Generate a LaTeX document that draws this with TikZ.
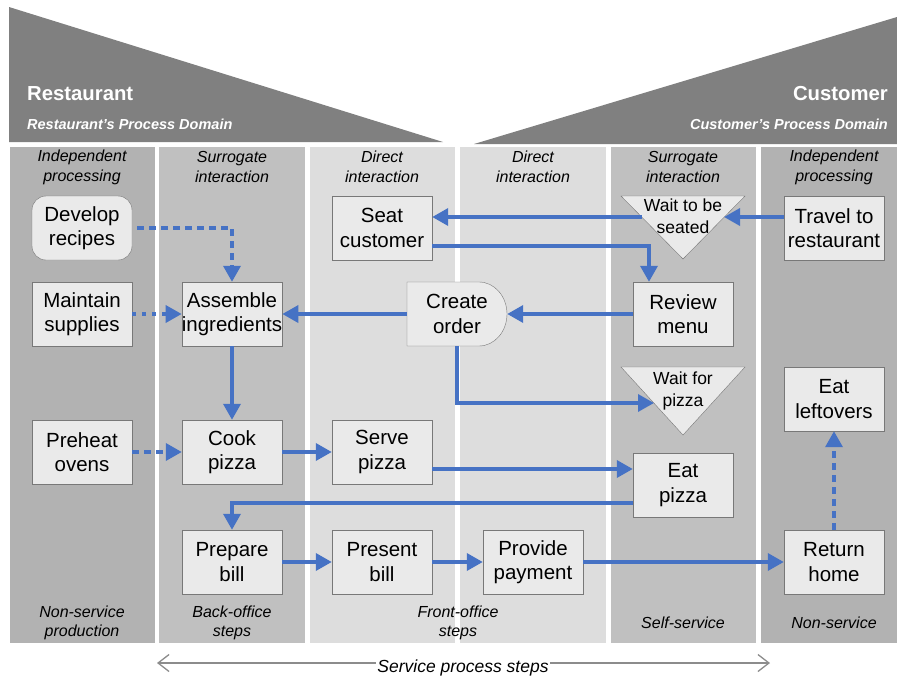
\documentclass[tikz,border=0pt]{standalone}
\usepackage{fontspec}
\setmainfont{Liberation Sans}
\usetikzlibrary{arrows.meta}

\definecolor{lanedark}{RGB}{178,178,178}
\definecolor{lanemid}{RGB}{192,192,192}
\definecolor{lanelight}{RGB}{221,221,221}
\definecolor{headgray}{RGB}{128,128,128}
\definecolor{spangray}{RGB}{140,140,140}
\definecolor{boxfill}{RGB}{234,234,234}
\definecolor{boxedge}{RGB}{120,120,120}
\definecolor{flowblue}{RGB}{70,114,196}

\tikzset{
  procbox/.style={draw=boxedge, fill=boxfill, minimum width=100pt, minimum height=64pt,
    inner sep=0pt, align=center, font=\fontsize{20.5}{24.5}\selectfont},
  roundbox/.style={procbox, rounded corners=14pt},
  plainbox/.style={minimum width=100pt, minimum height=64pt, inner sep=0pt, align=center,
    font=\fontsize{20.5}{24.5}\selectfont},
  waittext/.style={align=center, inner sep=0pt, font=\fontsize{17.5}{22}\selectfont},
  lanehead/.style={align=center, inner sep=0pt, font=\fontsize{16}{20}\selectfont\itshape},
  lanefoot/.style={align=center, inner sep=0pt, font=\fontsize{16}{19}\selectfont\itshape},
  flow/.style={draw=flowblue, line width=3.5pt, -{Triangle[length=16pt,width=17pt]}},
  dashflow/.style={flow, dash pattern=on 7pt off 5pt},
  dotflow/.style={flow, dash pattern=on 3.5pt off 6.5pt}
}

\begin{document}
\begin{tikzpicture}[x=1pt,y=-1pt]
\useasboundingbox (0,0) rectangle (897,675);

% Lanes
\fill[lanedark] (10,147) rectangle (155,643);
\fill[lanemid] (159,147) rectangle (305,643);
\fill[lanelight] (310,147) rectangle (455,643);
\fill[lanelight] (460,147) rectangle (606,643);
\fill[lanemid] (611,147) rectangle (756,643);
\fill[lanedark] (761,147) rectangle (897,643);

% Process domains
\fill[headgray] (9,7) -- (9,142) -- (443,142) -- cycle;
\fill[headgray] (897,17) -- (897,144) -- (474,144) -- cycle;
\node[anchor=base west, text=white, inner sep=0pt, font=\fontsize{20.3}{24}\selectfont\bfseries] (resttitle) at (27,100) {Restaurant};
\node[anchor=base west, text=white, inner sep=0pt, font=\fontsize{14.5}{17}\selectfont\bfseries\itshape] (restdomain) at (27,129) {Restaurant’s Process Domain};
\node[anchor=base east, text=white, inner sep=0pt, font=\fontsize{20.3}{24}\selectfont\bfseries] (custtitle) at (888,100) {Customer};
\node[anchor=base east, text=white, inner sep=0pt, font=\fontsize{14.5}{17}\selectfont\bfseries\itshape] (custdomain) at (888,129) {Customer’s Process Domain};

% Lane headings
\node[lanehead] (head1) at (82,167) {Independent\\processing};
\node[lanehead] (head2) at (232,167) {Surrogate\\interaction};
\node[lanehead] (head3) at (382,167) {Direct\\interaction};
\node[lanehead] (head4) at (533,167) {Direct\\interaction};
\node[lanehead] (head5) at (683,167) {Surrogate\\interaction};
\node[lanehead] (head6) at (834,167) {Independent\\processing};

% Lane footers
\node[lanefoot] (foot1) at (82,623) {Non-service\\production};
\node[lanefoot] (foot2) at (232,623) {Back-office\\steps};
\node[lanefoot] (foot3) at (458,623) {Front-office\\steps};
\node[lanefoot] (foot5) at (683,623) {Self-service};
\node[lanefoot] (foot6) at (834,623) {Non-service};

% Restaurant steps
\node[roundbox] (develop) at (82,228) {Develop\\recipes};
\node[procbox] (maintain) at (82,314) {Maintain\\supplies};
\node[procbox] (preheat) at (82,452) {Preheat\\ovens};
\node[procbox] (assemble) at (232,314) {Assemble\\ingredients};
\node[procbox] (cook) at (232,452) {Cook\\pizza};
\node[procbox] (prepare) at (232,562) {Prepare\\bill};
\node[procbox] (seat) at (382,228) {Seat\\customer};
\node[procbox] (serve) at (382,452) {Serve\\pizza};
\node[procbox] (present) at (382,562) {Present\\bill};
\node[procbox] (payment) at (533,562) {Provide\\payment};

% Create order (delay shape)
\draw[draw=boxedge, fill=boxfill] (407,282) -- (479,282)
  arc[start angle=90, end angle=-90, x radius=28pt, y radius=32pt] -- (407,346) -- cycle;
\node[plainbox] (order) at (457,314) {Create\\order};

% Customer steps
\draw[draw=boxedge, fill=boxfill] (621,196) -- (745,196) -- (683,259) -- cycle;
\node[waittext] (waitseat) at (683,216) {Wait to be\\seated};
\draw[draw=boxedge, fill=boxfill] (621,367) -- (745,367) -- (683,435) -- cycle;
\node[waittext] (waitpizza) at (683,391) {Wait for\\pizza};
\node[procbox] (travel) at (834,228) {Travel to\\restaurant};
\node[procbox] (review) at (683,314) {Review\\menu};
\node[procbox] (eat) at (683,485) {Eat\\pizza};
\node[procbox] (leftovers) at (834,399) {Eat\\leftovers};
\node[procbox] (home) at (834,562) {Return\\home};

\coordinate (waitseatR) at (724,217);
\coordinate (waitseatL) at (642,217);
\coordinate (waitpizzaL) at (654,403);
\coordinate (serveout) at ([yshift=-17pt]serve.east);

% Flows
\draw[dashflow] ([xshift=5pt]develop.east) -| (assemble.north);
\draw[dotflow] (maintain.east) -- (assemble.west);
\draw[dashflow] (preheat.east) -- (cook.west);
\draw[flow] (assemble.south) -- (cook.north);
\draw[flow] (cook.east) -- (serve.west);
\draw[flow] (serveout) -- (eat.west |- serveout);
\draw[flow] ([yshift=-18pt]eat.west) -| (prepare.north);
\draw[flow] (prepare.east) -- (present.west);
\draw[flow] (present.east) -- (payment.west);
\draw[flow] (payment.east) -- (home.west);
\draw[dashflow] (home.north) -- (leftovers.south);
\draw[flow] (travel.west |- waitseatR) -- (waitseatR);
\draw[flow] (waitseatL) -- (seat.east |- waitseatL);
\draw[flow] ([yshift=-18pt]seat.east) -| ([xshift=-34pt]review.north);
\draw[flow] (review.west) -- (order.east);
\draw[flow] (order.west) -- (assemble.east);
\draw[flow] (order.south) |- (waitpizzaL);

% Service process steps
\coordinate (svcL) at (157,663);
\coordinate (svcR) at (770,663);
\draw[spangray, line width=1.3pt, {Straight Barb[length=11pt,width=17pt]}-{Straight Barb[length=11pt,width=17pt]}] (svcL) -- (svcR);
\node[anchor=base, fill=white, inner xsep=1pt, inner ysep=0pt, font=\fontsize{17.5}{20}\selectfont\itshape] (svc) at (463,672) {Service process steps};

\end{tikzpicture}
\end{document}
